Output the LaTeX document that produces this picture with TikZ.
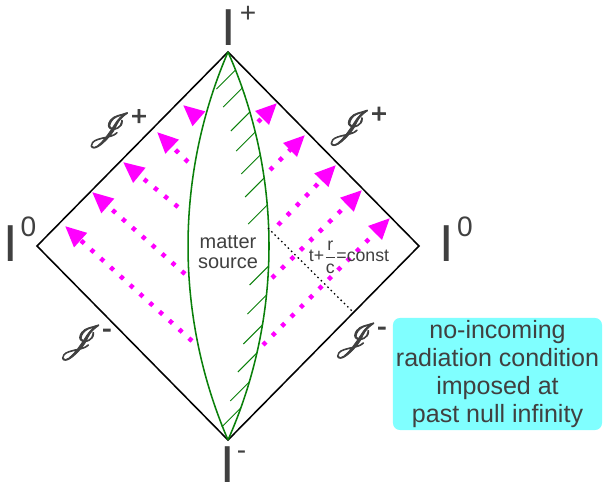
\documentclass[tikz,border=0pt]{standalone}
\usepackage{amsmath}
\usepackage{mathrsfs}
\usepackage{fontspec}
\setmainfont{Liberation Sans}
\usetikzlibrary{
    arrows.meta,
    positioning
}
\definecolor{ink}{RGB}{64,64,64}
\definecolor{lensgreen}{RGB}{10,128,10}
\definecolor{raypink}{RGB}{255,0,255}
\definecolor{notefill}{RGB}{128,255,255}
% heavier script J for the null infinities
\newcommand{\heavyscri}[1]{\special{pdf:literal direct 2 Tr 0.6 w}$\mathscr{J}^{\text{#1}}$\special{pdf:literal direct 0 Tr}}
\tikzset{
    spacetime/.style={
        draw=black,
        line width=1.1pt,
        line join=miter
    },
    lens/.style={
        draw=lensgreen,
        line width=1.1pt
    },
    hatch/.style={
        draw=lensgreen,
        line width=0.7pt
    },
    ray/.style={
        draw=raypink,
        line width=3.2pt,
        dash pattern=on 3pt off 6.4pt,
        -{Triangle[length=15pt, width=13pt]}
    },
    slice/.style={
        draw=black,
        line width=0.9pt,
        dash pattern=on 1.1pt off 2.2pt
    },
    infty/.style={
        text=ink,
        inner sep=0pt,
        font=\fontsize{37}{37}\selectfont
    },
    infsup/.style={
        text=ink,
        inner sep=0pt,
        font=\fontsize{20}{20}\selectfont
    },
    scri/.style={
        text=ink,
        inner sep=0pt,
        font=\fontsize{27}{27}\selectfont
    },
    annot/.style={
        text=ink,
        align=center,
        inner sep=0pt,
        font=\fontsize{14.2}{14.2}\selectfont
    },
    condbox/.style={
        rectangle,
        fill=notefill,
        rounded corners=5pt,
        minimum width=5.225cm,
        minimum height=2.8cm,
        inner sep=0pt,
        align=center,
        text=ink,
        font=\fontsize{17.8}{19.7}\selectfont
    }
}

\begin{document}
\begin{tikzpicture}[x=0.025cm, y=-0.025cm]

\useasboundingbox[fill=white] (0,0) rectangle (603,485);

% Corners of the diagram
\coordinate (top) at (228,52);
\coordinate (bot) at (228,440);
\coordinate (west) at (37,246);
\coordinate (east) at (419,246);

\draw[spacetime] (top) -- (east) -- (bot) -- (west) -- cycle;

% Source world tube
\draw[lens] (top) arc[start angle=203.30, end angle=156.70, radius=490.45];
\draw[lens] (top) arc[start angle=-23.865, end angle=23.865, radius=479.5];

% Hatching on the inner side of the tube
\coordinate (rc) at (-210.5,246);
\foreach \hy in {70,88,112,132,155,178,205,266,295,325,353,382,408} {
    \pgfmathsetmacro{\ha}{asin((\hy-246)/479.5)}
    \draw[hatch] ([shift={(\ha:479.5)}]rc) -- ++(-19,19);
}

% Outgoing radiation
\foreach \tx/\ty/\hx/\hy in {192/341/65/226, 185/274/92/192, 178/207/123/162,
                             188/162/157/132, 198/118/183/105} {
    \draw[ray] (\tx,\ty) -- (\hx,\hy);
}
\foreach \tx/\ty/\hx/\hy in {258/122/277/103, 270/170/305/135, 278/225/336/165,
                             272/278/362/190, 263/345/390/218} {
    \draw[ray] (\tx,\ty) -- (\hx,\hy);
}

% Incoming null slice
\coordinate (sliceA) at (268,228);
\coordinate (sliceB) at (353,312);
\draw[slice] (sliceA) -- (sliceB);
\node[annot, font=\fontsize{12.6}{13}\selectfont] (constlab) at (349,257)
    {t+$\dfrac{\text{r}}{\text{c}}$=const};

% Labels at infinity
\node[infty] (Itop) at (229,27.5) {I};
\node[infsup] (Itopsup) at (248,14) {+};
\node[infty] (Iwest) at (11,243.5) {I};
\node[infsup] (Iwestsup) at (28.5,226.5) {0};
\node[infty] (Ieast) at (447,243.5) {I};
\node[infsup] (Ieastsup) at (465,226.5) {0};
\node[infty] (Ibot) at (228,465) {I};
\node[infsup, anchor=base] (Ibotsup) at (241.5,459) {-};

\node[scri] (scriNW) at (117.5,128.5) {\heavyscri{+}};
\node[scri] (scriNE) at (357.5,126) {\heavyscri{+}};
\node[scri] (scriSW) at (85.5,342.5) {\heavyscri{-}};
\node[scri] (scriSE) at (360.5,340.5) {\heavyscri{-}};

\node[annot] (source) at (228,252) {matter\\source};

% Boundary condition note
\node[condbox] (cond) at (497.5,374)
    {no-incoming\\radiation condition\\imposed at\\past null infinity};

\end{tikzpicture}
\end{document}
